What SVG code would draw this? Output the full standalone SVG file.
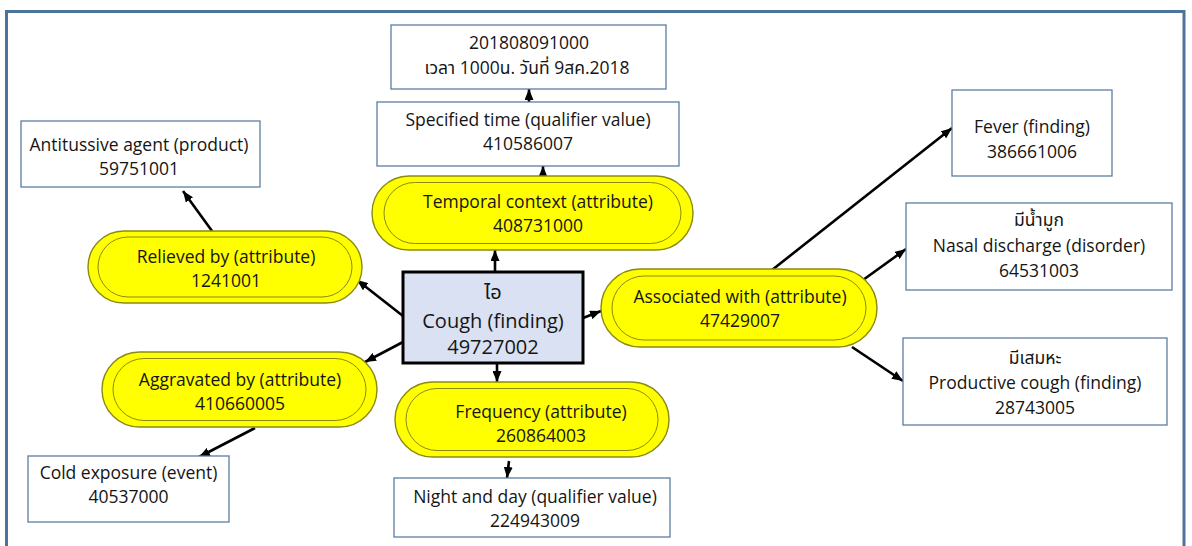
<svg xmlns="http://www.w3.org/2000/svg" width="1192" height="546" viewBox="0 0 1192 546">
<defs>
<style>
.box{fill:#fff;stroke:#5b7ea3;stroke-width:1.3}
.main{fill:#dae1f2;stroke:#000;stroke-width:3}
.so{fill:#ffff00;stroke:#8a8a10;stroke-width:1.4}
.si{fill:none;stroke:#8a8a10;stroke-width:1}
text{font-family:"Open Sans","Noto Sans Thai","Noto Sans","DejaVu Sans",sans-serif;font-size:17.5px;fill:#151515;text-anchor:middle}
.big{font-size:20px}
.conn line{stroke:#000;stroke-width:2.6;marker-end:url(#ah)}
</style>
<marker id="ah" markerUnits="userSpaceOnUse" markerWidth="11" markerHeight="9" refX="11" refY="4.5" orient="auto">
<path d="M0,0 L11,4.5 L0,9 z" fill="#000"/>
</marker>
</defs>
<rect width="1192" height="546" fill="#fff"/>
<path d="M6.5,546 V11.5 H1184 V546" fill="none" stroke="#4e7399" stroke-width="3"/>

<g class="conn" id="connectors">
<line x1="212" y1="231" x2="183" y2="191"/>
<line x1="403" y1="316" x2="357" y2="280"/>
<line x1="403" y1="342" x2="365" y2="362"/>
<line x1="255" y1="428" x2="199" y2="457"/>
<line x1="495" y1="272" x2="495" y2="250"/>
<line x1="543" y1="177" x2="543" y2="166"/>
<line x1="529" y1="102" x2="529" y2="89"/>
<line x1="497" y1="363" x2="497" y2="382"/>
<line x1="509" y1="461" x2="507" y2="478"/>
<line x1="583" y1="318" x2="601" y2="311"/>
<line x1="772" y1="270" x2="952" y2="128"/>
<line x1="863" y1="280" x2="906" y2="249"/>
<line x1="852" y1="347" x2="903" y2="381"/>
</g>

<g id="antitussive">
<rect class="box" x="21" y="121" width="239" height="66"/>
<text x="139" y="151">Antitussive agent (product)</text>
<text x="139" y="175">59751001</text>
</g>

<g id="datetime">
<rect class="box" x="391" y="25" width="275" height="64"/>
<text x="529" y="49">201808091000</text>
<text x="527" y="74">เวลา 1000น. วันที่ 9สค.2018</text>
</g>

<g id="specified-time">
<rect class="box" x="377" y="102" width="302" height="64"/>
<text x="528" y="126">Specified time (qualifier value)</text>
<text x="528" y="150">410586007</text>
</g>

<g id="temporal-context">
<rect class="so" x="372" y="176" width="321" height="74" rx="37"/>
<rect class="si" x="384" y="182.5" width="297" height="61" rx="30.5"/>
<text x="538" y="208">Temporal context (attribute)</text>
<text x="538" y="232">408731000</text>
</g>

<g id="fever">
<rect class="box" x="952" y="90" width="160" height="86"/>
<text x="1032" y="133">Fever (finding)</text>
<text x="1032" y="158">386661006</text>
</g>

<g id="nasal-discharge">
<rect class="box" x="906" y="203" width="266" height="87"/>
<text x="1039" y="226">มีน้ำมูก</text>
<text x="1039" y="252">Nasal discharge (disorder)</text>
<text x="1039" y="277">64531003</text>
</g>

<g id="productive-cough">
<rect class="box" x="903" y="338" width="264" height="87"/>
<text x="1035" y="364">มีเสมหะ</text>
<text x="1035" y="389">Productive cough (finding)</text>
<text x="1035" y="414">28743005</text>
</g>

<g id="associated-with">
<rect class="so" x="601" y="269" width="276" height="78" rx="39"/>
<rect class="si" x="612" y="276" width="254" height="64" rx="32"/>
<text x="740" y="303">Associated with (attribute)</text>
<text x="740" y="327">47429007</text>
</g>

<g id="cough">
<rect class="main" x="403" y="272" width="180" height="91"/>
<text class="big" x="493" y="299">ไอ</text>
<text class="big" x="493" y="328">Cough (finding)</text>
<text class="big" x="493" y="354">49727002</text>
</g>

<g id="frequency">
<rect class="so" x="395" y="382" width="274" height="75" rx="37.5"/>
<rect class="si" x="406" y="388.5" width="252" height="62" rx="31"/>
<text x="541" y="418">Frequency (attribute)</text>
<text x="541" y="442">260864003</text>
</g>

<g id="night-and-day">
<rect class="box" x="394" y="478" width="276" height="59"/>
<text x="535" y="503">Night and day (qualifier value)</text>
<text x="535" y="527">224943009</text>
</g>

<g id="relieved-by">
<rect class="so" x="88" y="231" width="274" height="72" rx="36"/>
<rect class="si" x="98" y="237" width="254" height="60" rx="30"/>
<text x="226" y="263">Relieved by (attribute)</text>
<text x="226" y="287">1241001</text>
</g>

<g id="aggravated-by">
<rect class="so" x="102" y="352" width="275" height="75" rx="37.5"/>
<rect class="si" x="113" y="358.5" width="253" height="62" rx="31"/>
<text x="240" y="386">Aggravated by (attribute)</text>
<text x="240" y="410">410660005</text>
</g>

<g id="cold-exposure">
<rect class="box" x="28" y="456" width="201" height="66"/>
<text x="128.5" y="479">Cold exposure (event)</text>
<text x="128.5" y="503">40537000</text>
</g>
</svg>
